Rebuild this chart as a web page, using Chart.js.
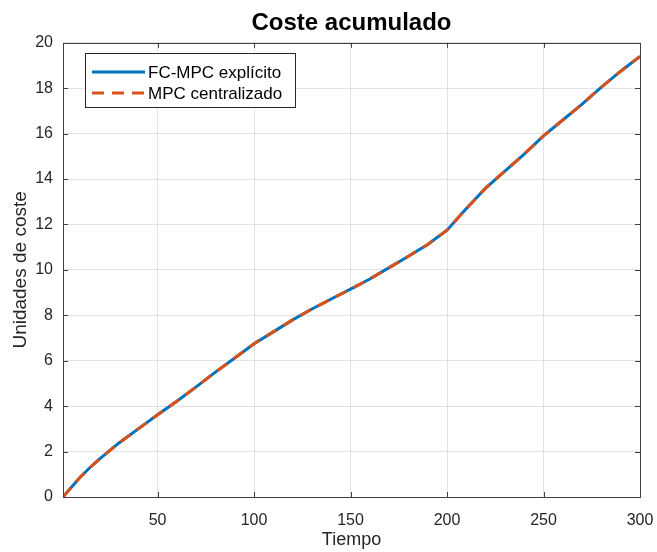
<!DOCTYPE html>
<html lang="es">
<head>
    <meta charset="UTF-8">
    <script src="https://cdn.jsdelivr.net/npm/chart.js"></script>
    <title>Coste acumulado</title>
    <style>
        html, body{
            margin:0;
            padding:0;
            background:#fff;
        }
        #chart_area{
            width:657px;
            height:552px;
        }
    </style>
</head>
<body>
    <div id="chart_area">
        <canvas id="mychart"></canvas>
    </div>
    <script>
        // datos
        let tiempo = [1,5,10,15,20,30,40,50,60,70,80,90,100,110,120,130,140,150,160,170,180,190,200,210,220,230,240,250,260,270,280,290,300];
        let fcmpc  = [0,0.4,0.88,1.3,1.68,2.38,3.0,3.62,4.22,4.85,5.5,6.12,6.75,7.27,7.8,8.28,8.72,9.15,9.6,10.1,10.6,11.12,11.75,12.7,13.6,14.35,15.1,15.9,16.6,17.3,18.05,18.75,19.4];
        let mpcCen = [0,0.4,0.88,1.3,1.68,2.38,3.0,3.62,4.22,4.85,5.5,6.12,6.75,7.27,7.8,8.28,8.72,9.15,9.6,10.1,10.6,11.12,11.75,12.7,13.6,14.35,15.1,15.9,16.6,17.3,18.05,18.75,19.4];
        let xTicks = [50,100,150,200,250,300];
        let yTicks = [0,2,4,6,8,10,12,14,16,18,20];

        let ctx = document.querySelector("#mychart");
        let fontFam = "'Liberation Sans', Arial, Helvetica, sans-serif";
        let axisColor = "#404040";

        // caja, marcas interiores y leyenda al estilo matlab
        let matlabBox = {
            id: "matlabBox",
            afterDatasetsDraw(chart){
                let c = chart.ctx;
                let a = chart.chartArea;
                let xs = chart.scales.x, ys = chart.scales.y;
                c.save();
                c.strokeStyle = axisColor;
                c.lineWidth = 1;
                c.beginPath();
                xTicks.forEach(t=>{
                    let px = Math.round(xs.getPixelForValue(t)) + 0.5;
                    c.moveTo(px, a.bottom); c.lineTo(px, a.bottom - 5);
                    c.moveTo(px, a.top); c.lineTo(px, a.top + 5);
                });
                yTicks.forEach(t=>{
                    let py = Math.round(ys.getPixelForValue(t)) + 0.5;
                    c.moveTo(a.left, py); c.lineTo(a.left + 5, py);
                    c.moveTo(a.right, py); c.lineTo(a.right - 5, py);
                });
                c.stroke();
                c.strokeRect(Math.round(a.left)+0.5, Math.round(a.top)+0.5, Math.round(a.right-a.left), Math.round(a.bottom-a.top));

                // leyenda
                let bx = 85, by = 53, bw = 210, bh = 54;
                c.fillStyle = "#fff";
                c.fillRect(bx, by, bw, bh);
                c.strokeStyle = "#262626";
                c.strokeRect(bx+0.5, by+0.5, bw, bh);
                c.font = "17px " + fontFam;
                c.textBaseline = "middle";
                chart.data.datasets.forEach((ds, i)=>{
                    let ly = by + 19 + i*21;
                    c.beginPath();
                    c.strokeStyle = ds.borderColor;
                    c.lineWidth = 3;
                    c.setLineDash(ds.borderDash || []);
                    c.moveTo(92, ly); c.lineTo(145, ly);
                    c.stroke();
                    c.setLineDash([]);
                    c.fillStyle = "#000";
                    c.fillText(ds.label, 148, ly + 1);
                });
                c.restore();
            }
        };

        let config = {
            type: "line",
            data: {
                datasets: [
                    {
                        label: "FC-MPC explícito",
                        data: tiempo.map((t,i)=>({x:t, y:fcmpc[i]})),
                        borderColor: "#0072BD",
                        borderWidth: 3,
                        pointRadius: 0,
                        tension: 0,
                        order: 1,
                    },
                    {
                        label: "MPC centralizado",
                        data: tiempo.map((t,i)=>({x:t, y:mpcCen[i]})),
                        borderColor: "#D95319",
                        borderWidth: 3,
                        borderDash: [12, 8],
                        pointRadius: 0,
                        tension: 0,
                        order: 0,
                    },
                ]
            },
            options: {
                responsive: true,
                maintainAspectRatio: false,
                animation: false,
                layout: { padding: { left: 0, right: 17, top: 0, bottom: 0 } },
                plugins: {
                    legend: { display: false },
                    tooltip: { enabled: false },
                    title: {
                        display: true,
                        fullSize: false,
                        text: "Coste acumulado",
                        color: "#000",
                        font: { family: fontFam, size: 24, weight: "bold", lineHeight: 1.2 },
                        padding: { top: 9, bottom: 5 },
                    }
                },
                scales: {
                    x: {
                        type: "linear",
                        min: 1,
                        max: 300,
                        afterBuildTicks: s => { s.ticks = xTicks.map(v=>({value:v})); },
                        afterFit: s => { s.height = 55; s.paddingLeft = 0; s.paddingRight = 0; },
                        grid: { color: "rgba(38,38,38,0.13)", drawTicks: false },
                        border: { display: false },
                        ticks: {
                            color: "#262626",
                            padding: 14,
                            maxRotation: 0,
                            font: { family: fontFam, size: 16 },
                        },
                        title: {
                            display: true,
                            text: "Tiempo",
                            color: "#262626",
                            font: { family: fontFam, size: 18 },
                            padding: { top: 0, bottom: 1 },
                        }
                    },
                    y: {
                        min: 0,
                        max: 20,
                        afterBuildTicks: s => { s.ticks = yTicks.map(v=>({value:v})); },
                        afterFit: s => { s.width = 63; s.paddingTop = 0; s.paddingBottom = 0; },
                        grid: { color: "rgba(38,38,38,0.13)", drawTicks: false },
                        border: { display: false },
                        ticks: {
                            color: "#262626",
                            padding: 10,
                            font: { family: fontFam, size: 16 },
                        },
                        title: {
                            display: true,
                            text: "Unidades de coste",
                            color: "#262626",
                            font: { family: fontFam, size: 19 },
                            padding: { top: 9, bottom: 0 },
                        }
                    }
                }
            },
            plugins: [matlabBox]
        };

        let chart = new Chart(ctx, config);
    </script>
</body>
</html>
